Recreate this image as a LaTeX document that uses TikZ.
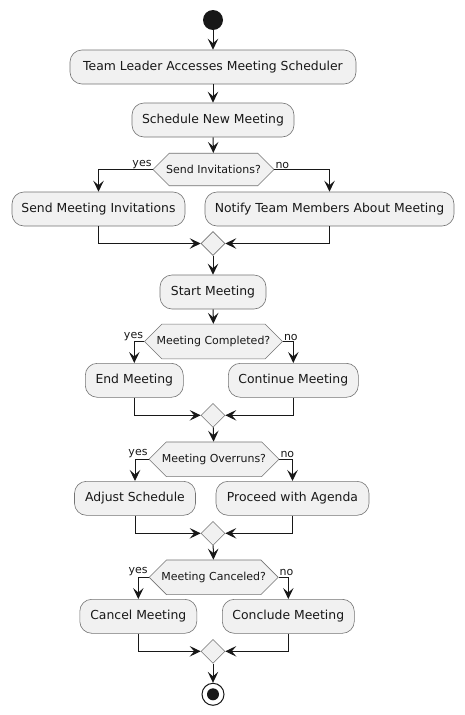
\documentclass[tikz,border=0pt]{standalone}
\usepackage{fontspec}
\setmainfont{DejaVu Sans}
\usetikzlibrary{shapes.geometric,shapes.misc,arrows.meta}
\definecolor{boxfill}{HTML}{F1F1F1}
\definecolor{ink}{HTML}{181818}
\tikzset{
  act/.style={rectangle, rounded corners=12pt, draw=ink!60, line width=0.6pt, fill=boxfill,
    minimum height=34pt, inner sep=0pt, font=\fontsize{12.4}{14}\selectfont, text=ink},
  hex/.style={chamfered rectangle, chamfered rectangle xsep=10pt, chamfered rectangle ysep=12pt,
    draw=ink!60, line width=0.6pt, fill=boxfill, minimum height=24pt, inner sep=0pt,
    font=\fontsize{11}{13}\selectfont, text=ink},
  merge/.style={diamond, draw=ink!60, line width=0.6pt, fill=boxfill, minimum width=24pt,
    minimum height=24pt, inner sep=0pt},
  arr/.style={draw=ink, line width=1pt, -{Stealth[length=11pt,width=10.5pt,inset=4.5pt]}},
  lbl/.style={font=\fontsize{11}{13}\selectfont, text=ink, inner sep=1pt}
}
\begin{document}
\begin{tikzpicture}[x=1pt,y=-1pt]
\useasboundingbox[fill=white] (0,0) rectangle (464,715);
\node[circle, fill=ink, minimum size=20pt, inner sep=0pt] (start) at (213,20) {};
\node[act, minimum width=286pt] (b1) at (213,67) {Team Leader Accesses Meeting Scheduler};
\node[act, minimum width=162pt] (b2) at (213,120) {Schedule New Meeting};
\node[hex, minimum width=121pt] (d1) at (213.5,169.5) {Send Invitations?};
\node[act, minimum width=173pt] (b3) at (98.5,209) {Send Meeting Invitations};
\node[act, minimum width=249pt] (b4) at (329.5,209) {Notify Team Members About Meeting};
\node[merge] (m1) at (213,243.5) {};
\node[act, minimum width=106pt] (b5) at (213,292) {Start Meeting};
\node[hex, minimum width=138pt] (d2) at (213.5,341.5) {Meeting Completed?};
\node[act, minimum width=98pt] (b6) at (134.3,380.3) {End Meeting};
\node[act, minimum width=130pt] (b7) at (293.3,380.3) {Continue Meeting};
\node[merge] (m2) at (213,415.3) {};
\node[hex, minimum width=130pt] (d3) at (214,459.3) {Meeting Overruns?};
\node[act, minimum width=121pt] (b8) at (135,498.3) {Adjust Schedule};
\node[act, minimum width=153pt] (b9) at (292.5,498.3) {Proceed with Agenda};
\node[merge] (m3) at (213,533.3) {};
\node[hex, minimum width=129pt] (d4) at (213.7,577.3) {Meeting Canceled?};
\node[act, minimum width=117pt] (b10) at (138.3,616.3) {Cancel Meeting};
\node[act, minimum width=132pt] (b11) at (288.3,616.3) {Conclude Meeting};
\node[merge] (m4) at (213,651.3) {};
\node[circle, draw=ink, line width=1pt, fill=white, minimum size=22pt, inner sep=0pt] (end) at (213,694.3) {};
\node[circle, fill=ink, minimum size=12pt, inner sep=0pt] at (end) {};
% connectors
\draw[arr] (start) -- (b1);
\draw[arr] (b1) -- (b2);
\draw[arr] (b2) -- (d1);
\draw[arr] (d1.west) -| (b3.north);
\draw[arr] (d1.east) -| (b4.north);
\node[lbl, anchor=south east] at (d1.west) {yes};
\node[lbl, anchor=south west] at (d1.east) {no};
\draw[arr] (b3.south) |- (m1.west);
\draw[arr] (b4.south) |- (m1.east);
\draw[arr] (m1) -- (b5);
\draw[arr] (b5) -- (d2);
\draw[arr] (d2.west) -| (b6.north);
\draw[arr] (d2.east) -| (b7.north);
\node[lbl, anchor=south east] at (d2.west) {yes};
\node[lbl, anchor=south west] at (d2.east) {no};
\draw[arr] (b6.south) |- (m2.west);
\draw[arr] (b7.south) |- (m2.east);
\draw[arr] (m2) -- (d3);
\draw[arr] (d3.west) -| (b8.north);
\draw[arr] (d3.east) -| (b9.north);
\node[lbl, anchor=south east] at (d3.west) {yes};
\node[lbl, anchor=south west] at (d3.east) {no};
\draw[arr] (b8.south) |- (m3.west);
\draw[arr] (b9.south) |- (m3.east);
\draw[arr] (m3) -- (d4);
\draw[arr] (d4.west) -| (b10.north);
\draw[arr] (d4.east) -| (b11.north);
\node[lbl, anchor=south east] at (d4.west) {yes};
\node[lbl, anchor=south west] at (d4.east) {no};
\draw[arr] (b10.south) |- (m4.west);
\draw[arr] (b11.south) |- (m4.east);
\draw[arr] (m4) -- (end);
\end{tikzpicture}
\end{document}
